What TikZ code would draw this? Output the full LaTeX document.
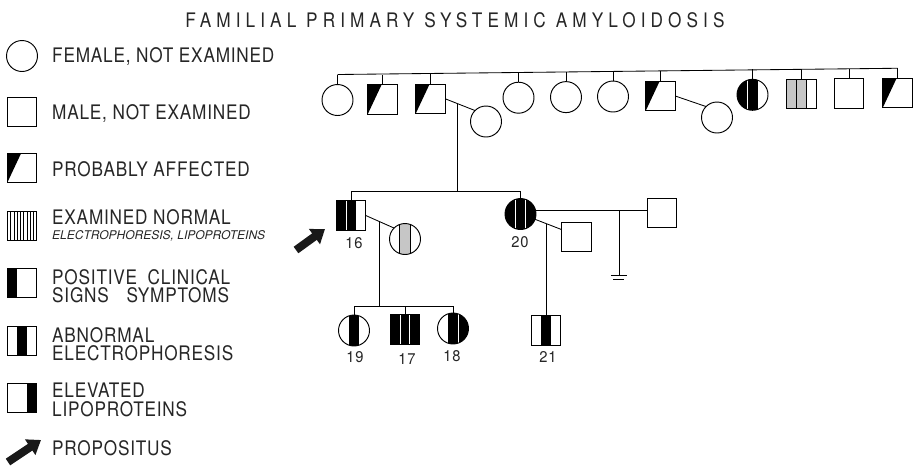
\documentclass[tikz,border=0pt]{standalone}
\usepackage{fontspec}
\setmainfont{TeX Gyre Heros}
\newfontfamily\lettered[FakeStretch=0.86,LetterSpace=4]{TeX Gyre Heros}
\newfontfamily\titlefont[FakeStretch=0.86,LetterSpace=25.5]{TeX Gyre Heros}
\newfontfamily\numfont[FakeStretch=0.95,LetterSpace=6]{TeX Gyre Heros}
\usetikzlibrary{arrows.meta,calc}
\tikzset{
  sym/.style={draw, line width=0.95pt, inner sep=0pt, outer sep=0pt, fill=white},
  fem/.style={sym, circle, minimum size=31pt},
  mal/.style={sym, rectangle, minimum size=29.5pt},
  pa/.style={path picture={\fill[black] (path picture bounding box.north west) -- ($(path picture bounding box.north west)!0.47!(path picture bounding box.north east)$) -- (path picture bounding box.south west) -- cycle;}},
  hatch/.style={path picture={\foreach \i in {1,...,8} {\draw[black, line width=0.6pt] ($(path picture bounding box.south west)!\i/9!(path picture bounding box.south east)$) -- ($(path picture bounding box.north west)!\i/9!(path picture bounding box.north east)$);}}},
  thirds/.style n args={5}{path picture={
    \fill[#1] (path picture bounding box.south west) rectangle ($(path picture bounding box.north west)!0.333!(path picture bounding box.north east)$);
    \fill[#2] ($(path picture bounding box.south west)!0.333!(path picture bounding box.south east)$) rectangle ($(path picture bounding box.north west)!0.667!(path picture bounding box.north east)$);
    \fill[#3] ($(path picture bounding box.south west)!0.667!(path picture bounding box.south east)$) rectangle (path picture bounding box.north east);
    \draw[draw=#4, line width=1pt] ($(path picture bounding box.south west)!0.333!(path picture bounding box.south east)$) -- ($(path picture bounding box.north west)!0.333!(path picture bounding box.north east)$);
    \draw[draw=#5, line width=1pt] ($(path picture bounding box.south west)!0.667!(path picture bounding box.south east)$) -- ($(path picture bounding box.north west)!0.667!(path picture bounding box.north east)$);
  }},
  link/.style={line width=0.85pt},
  keytext/.style={anchor=west, inner sep=0pt, align=left, font=\lettered\fontsize{20}{18.3}\selectfont, text=black!85},
  lbl/.style={inner sep=0pt, font=\numfont\fontsize{15.5}{15.5}\selectfont, text=black!85},
  bigarrow/.style={line width=8pt, -{Triangle[length=13pt,width=18pt]}, black!90},
}
\begin{document}
\begin{tikzpicture}[x=1pt,y=-1pt]
\useasboundingbox (0,0) rectangle (913,467);
\fill[white] (0,0) rectangle (913,467);
% title
\node[inner sep=0pt, font=\titlefont\fontsize{20}{20}\selectfont, text=black!85] (title) at (455,20) {FAMILIAL PRIMARY SYSTEMIC AMYLOIDOSIS};
% legend
\node[fem] (k1) at (22,56) {};
\node[keytext] (k1t) at (52,56) {FEMALE, NOT EXAMINED};
\node[mal] (k2) at (22,112) {};
\node[keytext] (k2t) at (52,113) {MALE, NOT EXAMINED};
\node[mal,pa] (k3) at (22,168) {};
\node[keytext] (k3t) at (52,169) {PROBABLY AFFECTED};
\node[mal,hatch] (k4) at (22,226) {};
\node[keytext] (k4t) at (52,217) {EXAMINED NORMAL};
\node[anchor=west, inner sep=0pt, font=\itshape\fontsize{12}{12}\selectfont, text=black!85] (k4s) at (52,236) {ELECTROPHORESIS, LIPOPROTEINS};
\node[mal,thirds={black}{white}{white}{none}{none}] (k5) at (22,283) {};
\node[keytext] (k5t) at (52,286) {POSITIVE\hspace{0.25em} CLINICAL\\SIGNS\hspace{0.6em} SYMPTOMS};
\node[mal,thirds={white}{black}{white}{none}{none}] (k6) at (22,341) {};
\node[keytext] (k6t) at (52,344) {ABNORMAL\\ELECTROPHORESIS};
\node[mal,thirds={white}{white}{black}{none}{none}] (k7) at (22,398) {};
\node[keytext] (k7t) at (52,400) {ELEVATED\\LIPOPROTEINS};
\coordinate (k8a) at (8,462);
\coordinate (k8b) at (41,440);
\draw[bigarrow] (k8a) -- (k8b);
\node[keytext] (k8t) at (52,448) {PROPOSITUS};
% generation I
\node[fem] (a1) at (337.5,100) {};
\node[mal,pa] (a2) at (382.5,99.4) {};
\node[mal,pa] (a3) at (430.5,98.8) {};
\node[fem] (a3w) at (486,121.5) {};
\node[fem] (a4) at (518.5,97.7) {};
\node[fem] (a5) at (566,97.1) {};
\node[fem] (a6) at (613,96.5) {};
\node[mal,pa] (a7) at (660.5,96) {};
\node[fem] (a7w) at (717,117.5) {};
\node[fem,thirds={black}{black}{white}{white}{none}] (a8) at (752.5,94.8) {};
\node[mal,thirds={gray!45}{gray!45}{white}{black}{black}] (a9) at (801.5,94.2) {};
\node[mal] (a10) at (849,93.6) {};
\node[mal,pa] (a11) at (897.5,93) {};
\coordinate (t1) at ($(a1.north)+(0,-10)$);
\coordinate (t11) at ($(a11.north)+(0,-10)$);
\draw[link] (t1) -- (t11);
\foreach \n in {a1,a2,a3,a4,a5,a6,a7,a8,a9,a10,a11} {\draw[link] (\n.north) -- ++(0,-10);}
\draw[link] (a3.east) -- (a3w.north west);
\draw[link] (a7.east) -- (a7w.north west);
\coordinate (m1) at ($(a3.east)!0.42!(a3w.north west)$);
% generation II
\node[mal,thirds={black}{black}{white}{white}{none}] (b16) at (351,215.5) {};
\node[fem,thirds={white}{gray!45}{white}{black}{black}] (b16w) at (405,239) {};
\node[fem,thirds={black}{black}{black}{white}{white}] (b20) at (520.5,214) {};
\node[mal] (b20h1) at (576.5,237) {};
\node[mal] (b20h2) at (662,213) {};
\node[lbl] (l16) at (354,243) {16};
\node[lbl] (l20) at (520,242) {20};
\coordinate (h2a) at ($(b16.north)+(0,-9)$);
\coordinate (h2b) at (b20.north |- h2a);
\draw[link] (h2a) -- (h2b);
\draw[link] (b16.north) -- (h2a);
\draw[link] (b20.north) -- (h2b);
\draw[link] (m1) -- (m1 |- h2a);
\draw[link] (b16.east) -- (b16w.north west);
\coordinate (m2) at ($(b16.east)!0.5!(b16w.north west)$);
\coordinate (e20) at (b20.14 -| b20h2.west);
\draw[link] (b20.14) -- (e20);
\coordinate (m3) at ($(b20.14)!0.747!(e20)$);
\coordinate (gnd) at ($(m3)+(0,65)$);
\draw[link] (m3) -- (gnd);
\draw[link] ($(gnd)+(-8,0)$) -- ($(gnd)+(8,0)$);
\draw[link] ($(gnd)+(-5.5,4)$) -- ($(gnd)+(5.5,4)$);
\coordinate (t20h1) at ($(b20h1.north west)!0.25!(b20h1.south west)$);
\draw[link] (b20.-20) -- (t20h1);
\coordinate (m4) at ($(b20.-20)!0.42!(t20h1)$);
% propositus arrow
\coordinate (pa1) at (296,250);
\coordinate (pa2) at (325,229);
\draw[bigarrow] (pa1) -- (pa2);
% generation III
\node[fem,thirds={white}{black}{white}{none}{none}] (c19) at (354,330.5) {};
\node[mal,thirds={black}{black}{black}{white}{white}] (c17) at (405,329.5) {};
\node[fem,thirds={white}{black}{black}{none}{white}] (c18) at (453,328.5) {};
\node[mal,thirds={white}{black}{white}{none}{none}] (c21) at (546,330.5) {};
\node[lbl] (l19) at (355,357) {19};
\node[lbl] (l17) at (407,359) {17};
\node[lbl] (l18) at (452,356) {18};
\node[lbl] (l21) at (548,357) {21};
\coordinate (h3a) at ($(c19.north)+(0,-9)$);
\coordinate (h3b) at (c18.north |- h3a);
\draw[link] (h3a) -- (h3b);
\draw[link] (c19.north) -- (h3a);
\draw[link] (c17.north) -- (c17.north |- h3a);
\draw[link] (c18.north) -- (h3b);
\draw[link] (m2) -- (m2 |- h3a);
\draw[link] (m4) -- (m4 |- c21.north);
\end{tikzpicture}
\end{document}
